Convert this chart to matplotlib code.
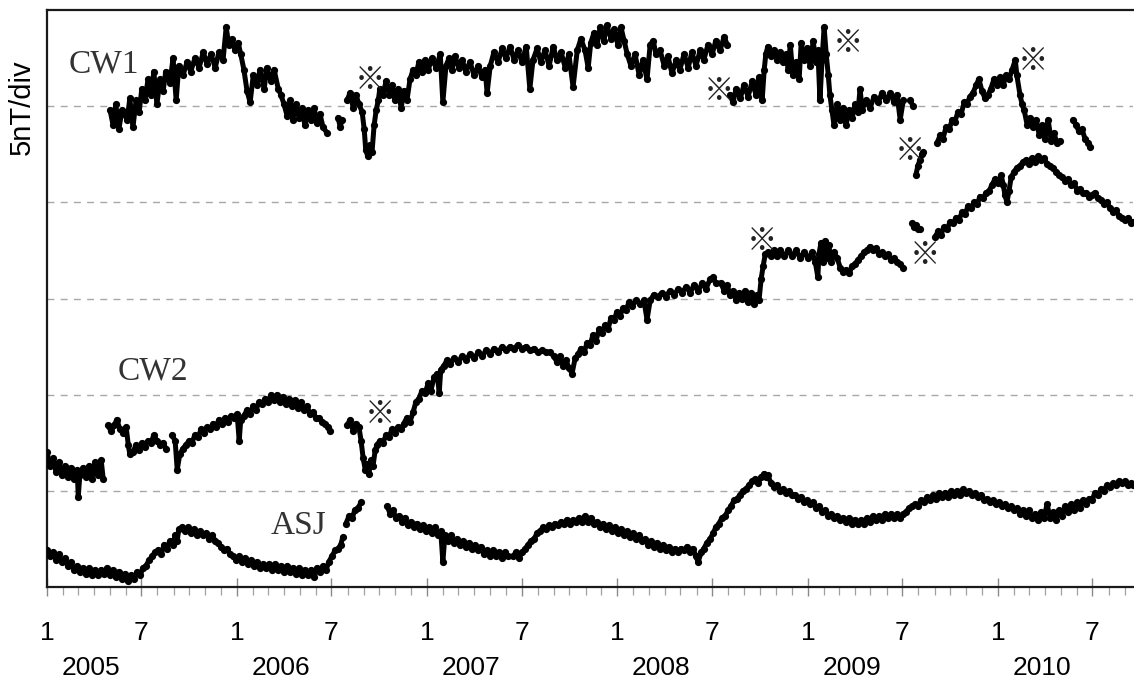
import numpy as np
import matplotlib
matplotlib.use("Agg")
import matplotlib.pyplot as plt
import matplotlib.transforms as mtransforms

nan = float("nan")

# x: days since 2005-01-01, y: field value in nT (5 nT per division); (nan, nan) marks a data gap
cw1 = [
    (121, 24.8), (127, 24.0), (132, 25.1), (138, 23.8), (144, 24.8), (154, 24.3), (159, 25.4), (165, 23.9),
    (171, 25.3), (177, 24.7), (182, 25.9), (188, 25.3), (194, 26.4), (200, 25.6), (205, 26.8), (211, 25.1),
    (217, 26.4), (223, 25.8), (228, 26.8), (236, 26.2), (242, 27.5), (248, 25.3), (253, 27.1), (261, 26.6),
    (269, 27.3), (276, 26.8), (284, 27.5), (292, 27.0), (300, 27.8), (307, 27.2), (315, 27.7), (323, 27.0),
    (330, 27.8), (338, 27.4), (344, 29.1), (349, 28.2), (355, 28.5), (361, 27.9), (367, 28.3), (372, 27.7),
    (378, 26.9), (384, 25.8), (390, 25.2), (396, 26.6), (403, 26.1), (409, 26.9), (417, 25.9), (422, 27.0),
    (430, 26.3), (436, 26.9), (444, 25.9), (449, 25.6), (455, 25.1), (461, 24.5), (467, 25.3), (472, 24.3),
    (478, 25.1), (484, 24.4), (490, 24.9), (495, 24.0), (501, 24.8), (507, 24.3), (513, 24.9), (518, 24.1),
    (524, 24.6), (530, 23.9), (538, 23.6),
    (nan, nan),
    (559, 24.4), (563, 23.9), (566, 24.3),
    (nan, nan),
    (576, 25.3), (582, 25.7), (588, 24.9), (593, 25.6), (599, 25.1), (605, 24.7), (609, 23.8), (612, 22.7),
    (616, 22.4), (620, 23.0), (624, 22.6), (628, 24.0), (632, 24.8), (636, 25.3), (639, 25.9), (645, 25.6),
    (651, 26.3), (657, 25.6), (662, 26.1), (668, 25.3), (674, 25.9), (680, 24.9), (685, 25.8), (691, 25.3),
    (697, 26.4), (703, 26.9), (708, 26.6), (714, 27.3), (720, 26.8), (726, 27.4), (732, 26.9), (739, 27.5),
    (747, 27.0), (755, 27.7), (760, 25.2), (766, 27.1), (772, 27.5), (778, 26.9), (783, 27.6), (791, 27.0),
    (797, 27.4), (804, 26.8), (812, 27.3), (820, 26.6), (828, 27.1), (835, 26.5), (841, 26.9), (845, 25.7),
    (851, 27.1), (858, 27.8), (866, 27.3), (874, 28.0), (881, 27.5), (889, 28.1), (897, 27.4), (904, 27.9),
    (912, 27.3), (920, 28.1), (927, 25.9), (933, 27.4), (941, 28.0), (948, 27.3), (956, 27.9), (964, 27.1),
    (972, 28.1), (979, 27.4), (987, 27.8), (995, 27.0), (1002, 27.7), (1010, 26.0), (1018, 27.9), (1025, 28.5),
    (1033, 27.9), (1039, 27.0), (1044, 28.3), (1050, 28.8), (1056, 28.2), (1062, 29.1), (1069, 28.4), (1075, 29.2),
    (1083, 28.5), (1089, 29.0), (1096, 28.2), (1102, 29.1), (1108, 28.4), (1114, 27.7), (1121, 27.1), (1129, 27.7),
    (1137, 26.6), (1144, 27.4), (1152, 26.4), (1158, 28.2), (1164, 28.4), (1169, 27.7), (1177, 27.9), (1185, 27.1),
    (1192, 27.6), (1200, 26.7), (1208, 27.4), (1215, 26.9), (1223, 27.7), (1231, 27.0), (1238, 27.8), (1246, 27.1),
    (1254, 27.9), (1261, 27.4), (1269, 28.2), (1277, 27.7), (1284, 28.4), (1292, 27.9), (1300, 28.6), (1306, 28.2),
    (nan, nan),
    (1311, 25.6), (1317, 25.2), (1323, 25.9), (1331, 25.4), (1338, 26.1), (1346, 25.5), (1354, 26.3), (1361, 25.6),
    (1367, 26.5), (1373, 25.3), (1377, 26.9), (1380, 27.7), (1384, 28.1), (1390, 27.6), (1396, 27.9), (1402, 27.4),
    (1407, 27.8), (1413, 27.3), (1419, 27.7), (1423, 26.9), (1427, 28.2), (1432, 26.6), (1438, 27.3), (1444, 26.4),
    (1448, 28.3), (1453, 27.4), (1459, 28.0), (1465, 27.1), (1471, 28.4), (1476, 27.3), (1480, 27.9), (1484, 25.3),
    (1488, 27.4), (1492, 29.1), (1496, 27.7), (1500, 26.6), (1503, 25.6), (1507, 24.8), (1511, 24.0), (1517, 25.1),
    (1523, 24.3), (1528, 24.9), (1534, 24.0), (1540, 24.8), (1546, 24.4), (1551, 25.1), (1557, 24.7), (1561, 25.9),
    (1565, 24.8), (1572, 25.3), (1580, 24.9), (1588, 25.5), (1596, 25.2), (1603, 25.7), (1611, 25.3), (1619, 25.7),
    (1626, 25.2), (1632, 25.6), (1638, 24.3), (1644, 25.3),
    (nan, nan),
    (1657, 25.3), (1663, 25.0),
    (nan, nan),
    (1668, 21.4), (1672, 21.9), (1676, 22.2), (1680, 22.5), (1682, 22.6),
    (nan, nan),
    (1709, 23.1), (1715, 23.5), (1720, 23.3), (1726, 23.9), (1732, 23.8), (1738, 24.3), (1743, 24.2), (1749, 24.7),
    (1755, 24.6), (1761, 25.2), (1766, 25.1), (1772, 25.5), (1778, 25.7), (1784, 26.1), (1789, 26.4), (1795, 25.8),
    (1801, 25.4), (1807, 25.6), (1812, 25.9), (1818, 26.4), (1824, 26.1), (1830, 26.5), (1836, 26.1), (1841, 26.6),
    (1847, 26.4), (1853, 26.9), (1859, 27.4), (1862, 26.6), (1868, 25.6), (1872, 25.1), (1876, 24.8), (1882, 24.0),
    (1887, 24.4), (1893, 23.9), (1899, 24.3), (1905, 23.5), (1910, 24.0), (1916, 23.3), (1922, 24.3), (1928, 23.2),
    (1933, 23.6), (1939, 23.1), (1945, 23.2),
    (nan, nan),
    (1970, 24.3), (1976, 24.0), (1981, 23.7), (1987, 23.8), (1993, 23.3), (1999, 23.1), (2003, 22.9),
]

cw2 = [
    (0, 7.0), (6, 6.3), (12, 6.7), (17, 6.0), (23, 6.5), (29, 5.8), (35, 6.3), (40, 5.7), (46, 6.2), (52, 5.6),
    (58, 6.1), (60, 4.7), (63, 5.8), (69, 6.2), (75, 5.7), (81, 6.3), (86, 5.6), (92, 6.5), (98, 5.8), (104, 6.6),
    (108, 5.6),
    (nan, nan),
    (117, 8.4), (123, 8.1), (129, 8.4), (134, 8.7), (140, 8.2), (146, 8.0), (152, 8.3), (156, 7.4), (159, 6.9),
    (165, 7.0), (171, 7.4), (177, 7.1), (182, 7.5), (188, 7.3), (194, 7.6), (200, 7.5), (205, 7.9), (211, 7.6),
    (217, 7.4), (223, 7.5), (228, 7.2),
    (nan, nan),
    (240, 7.9), (246, 7.6), (250, 6.1), (255, 6.9), (261, 7.2), (267, 7.4), (273, 7.6), (278, 7.5), (284, 7.9),
    (290, 7.8), (296, 8.2), (301, 8.0), (307, 8.3), (313, 8.2), (319, 8.5), (324, 8.3), (330, 8.7), (336, 8.5),
    (342, 8.8), (348, 8.6), (353, 8.9), (359, 8.8), (365, 9.0), (369, 7.6), (372, 8.7), (378, 8.9), (384, 9.2),
    (390, 9.0), (396, 9.4), (401, 9.2), (407, 9.6), (413, 9.5), (419, 9.8), (424, 9.6), (430, 10.0), (436, 9.7),
    (442, 10.0), (447, 9.6), (453, 9.9), (459, 9.5), (465, 9.8), (470, 9.4), (476, 9.7), (482, 9.3), (488, 9.6),
    (493, 9.2), (499, 9.4), (505, 9.0), (511, 9.1), (516, 8.8), (522, 8.8), (528, 8.6), (534, 8.5), (540, 8.3),
    (543, 8.1),
    (nan, nan),
    (576, 8.4), (582, 8.7), (588, 8.1), (593, 8.5), (599, 8.3), (603, 7.6), (607, 6.7), (611, 6.1), (614, 6.4),
    (618, 5.9), (622, 6.6), (626, 6.3), (630, 7.1), (634, 7.4), (639, 7.6), (645, 7.5), (651, 7.9), (657, 7.8),
    (662, 8.2), (668, 8.0), (674, 8.3), (680, 8.2), (685, 8.5), (691, 8.8), (697, 8.6), (703, 9.1), (708, 9.6),
    (714, 9.8), (720, 10.2), (726, 10.1), (732, 10.6), (737, 10.2), (743, 10.9), (749, 11.1), (753, 10.1),
    (756, 11.3), (762, 11.5), (768, 11.8), (774, 11.6), (781, 11.9), (789, 11.7), (797, 12.0), (804, 11.8),
    (812, 12.1), (820, 11.9), (828, 12.2), (835, 12.0), (843, 12.3), (851, 12.1), (858, 12.4), (866, 12.2),
    (874, 12.5), (881, 12.3), (889, 12.5), (897, 12.4), (904, 12.6), (912, 12.4), (920, 12.5), (927, 12.3),
    (935, 12.4), (943, 12.2), (950, 12.3), (958, 12.2), (966, 12.2), (973, 12.0), (979, 11.7), (985, 12.0),
    (991, 11.5), (996, 11.8), (1002, 11.4), (1008, 11.1), (1014, 11.9), (1020, 12.1), (1025, 12.4), (1031, 12.2),
    (1037, 12.7), (1043, 12.6), (1048, 13.1), (1054, 12.8), (1060, 13.4), (1066, 13.2), (1071, 13.6), (1077, 13.4),
    (1083, 14.0), (1089, 13.9), (1094, 14.3), (1100, 14.1), (1106, 14.5), (1112, 14.4), (1117, 14.8), (1123, 14.6),
    (1131, 14.9), (1139, 14.7), (1146, 14.9), (1152, 13.9), (1158, 14.9), (1165, 15.2), (1173, 15.1), (1181, 15.3),
    (1188, 15.1), (1196, 15.4), (1204, 15.2), (1212, 15.5), (1219, 15.3), (1227, 15.6), (1235, 15.3), (1242, 15.7),
    (1250, 15.4), (1258, 15.8), (1265, 15.5), (1273, 16.0), (1279, 16.1), (1284, 15.8), (1294, 15.8), (1300, 15.4),
    (1306, 15.7), (1311, 15.2), (1317, 15.4), (1323, 14.9), (1329, 15.3), (1334, 15.0), (1340, 15.4), (1346, 14.8),
    (1352, 15.3), (1357, 14.7), (1363, 15.2), (1367, 14.9), (1371, 16.0), (1375, 16.7), (1379, 17.3), (1384, 17.4),
    (1390, 17.2), (1396, 17.5), (1402, 17.2), (1407, 17.5), (1415, 17.2), (1423, 17.5), (1430, 17.2), (1438, 17.5),
    (1446, 17.1), (1453, 17.4), (1461, 17.1), (1469, 17.4), (1475, 16.9), (1480, 16.1), (1482, 17.3), (1486, 17.9),
    (1490, 16.9), (1494, 18.0), (1498, 17.1), (1501, 17.8), (1505, 16.9), (1511, 17.4), (1517, 17.1), (1523, 16.6),
    (1528, 16.4), (1534, 16.5), (1540, 16.3), (1546, 16.7), (1551, 16.8), (1557, 17.0), (1563, 17.2), (1569, 17.4),
    (1574, 17.5), (1580, 17.7), (1586, 17.5), (1592, 17.6), (1597, 17.3), (1603, 17.4), (1609, 17.2), (1615, 17.3),
    (1620, 17.0), (1626, 17.1), (1632, 16.9), (1638, 16.8), (1644, 16.6),
    (nan, nan),
    (1661, 18.9), (1665, 18.7), (1668, 18.8), (1672, 18.6), (1676, 18.6),
    (nan, nan),
    (1705, 18.2), (1711, 18.5), (1716, 18.3), (1722, 18.7), (1728, 18.6), (1734, 19.0), (1740, 18.9), (1745, 19.2),
    (1751, 19.1), (1757, 19.5), (1763, 19.4), (1768, 19.8), (1774, 19.7), (1780, 20.0), (1786, 19.9), (1791, 20.3),
    (1797, 20.2), (1803, 20.5), (1809, 20.6), (1814, 20.9), (1820, 21.2), (1826, 21.0), (1832, 21.4), (1836, 20.9),
    (1839, 20.4), (1843, 20.0), (1847, 20.6), (1851, 21.3), (1857, 21.6), (1862, 21.8), (1868, 21.9), (1874, 22.1),
    (1880, 22.2), (1885, 22.0), (1891, 22.3), (1897, 22.1), (1903, 22.4), (1908, 22.2), (1914, 22.3), (1920, 22.0),
    (1926, 21.9), (1932, 21.8), (1937, 21.6), (1943, 21.4), (1949, 21.3), (1955, 21.1), (1960, 21.2), (1966, 20.9),
    (1972, 21.0), (1978, 20.6), (1983, 20.7), (1989, 20.5), (1995, 20.5), (2001, 20.3), (2006, 20.4), (2012, 20.5),
    (2018, 20.2), (2024, 20.1), (2029, 19.9), (2035, 20.0), (2041, 19.7), (2047, 19.5), (2052, 19.6), (2058, 19.3),
    (2064, 19.2), (2070, 19.1), (2076, 19.2), (2081, 18.9), (2085, 19.0),
]

asj = [
    (0, 1.9), (6, 1.6), (12, 1.8), (17, 1.4), (23, 1.7), (29, 1.3), (35, 1.5), (40, 1.1), (46, 1.3), (52, 0.9),
    (58, 1.1), (63, 0.8), (69, 1.0), (75, 0.7), (81, 1.0), (86, 0.6), (92, 0.9), (98, 0.6), (104, 0.9), (109, 0.7),
    (115, 1.0), (121, 0.6), (127, 0.9), (132, 0.5), (138, 0.8), (144, 0.4), (150, 0.7), (156, 0.3), (161, 0.6),
    (167, 0.4), (173, 0.8), (179, 0.6), (184, 1.0), (190, 1.1), (196, 1.4), (202, 1.6), (207, 1.8), (213, 1.9),
    (219, 1.7), (225, 2.2), (230, 2.0), (236, 2.4), (242, 2.2), (246, 2.7), (250, 2.4), (253, 3.0), (259, 3.1),
    (265, 2.9), (271, 3.1), (276, 2.8), (282, 3.0), (288, 2.7), (294, 2.9), (300, 2.7), (305, 2.8), (311, 2.5),
    (317, 2.7), (323, 2.4), (328, 2.3), (334, 2.1), (340, 1.9), (346, 2.0), (351, 1.7), (357, 1.6), (363, 1.4),
    (369, 1.6), (374, 1.3), (380, 1.5), (386, 1.2), (392, 1.4), (397, 1.1), (403, 1.3), (409, 1.0), (415, 1.2),
    (420, 1.0), (426, 1.2), (432, 0.9), (438, 1.2), (444, 0.9), (449, 1.1), (455, 0.8), (461, 1.1), (467, 0.8),
    (472, 1.0), (478, 0.7), (484, 1.0), (490, 0.6), (495, 0.9), (501, 0.6), (507, 0.9), (513, 0.5), (518, 1.0),
    (524, 0.8), (530, 1.1), (536, 0.9), (541, 1.3), (547, 1.6), (553, 1.9), (559, 2.0), (564, 2.2), (568, 2.6),
    (nan, nan),
    (574, 3.3), (580, 3.7), (586, 3.6), (591, 4.0), (597, 4.1), (603, 4.4),
    (nan, nan),
    (653, 4.2), (659, 3.8), (664, 4.0), (670, 3.6), (676, 3.7), (682, 3.4), (687, 3.6), (693, 3.2), (699, 3.4),
    (705, 3.1), (710, 3.3), (716, 3.0), (722, 3.2), (728, 2.9), (733, 3.1), (739, 2.8), (745, 3.1), (751, 2.7),
    (756, 2.9), (760, 1.3), (764, 2.7), (770, 2.4), (776, 2.7), (781, 2.3), (787, 2.5), (793, 2.2), (799, 2.4),
    (804, 2.1), (810, 2.3), (816, 2.0), (822, 2.2), (828, 1.9), (833, 2.1), (839, 1.7), (845, 1.9), (851, 1.6),
    (856, 1.9), (862, 1.6), (868, 1.8), (874, 1.5), (879, 1.8), (885, 1.6),
    (nan, nan),
    (895, 1.6), (900, 1.8), (906, 1.5), (912, 1.8), (918, 2.0), (924, 2.2), (929, 2.4), (935, 2.5), (941, 2.8),
    (947, 2.9), (952, 3.1), (958, 3.0), (964, 3.2), (970, 3.1), (975, 3.3), (981, 3.2), (987, 3.4), (993, 3.3),
    (998, 3.5), (1004, 3.3), (1010, 3.5), (1016, 3.4), (1021, 3.6), (1027, 3.4), (1033, 3.7), (1039, 3.4),
    (1044, 3.6), (1050, 3.3), (1056, 3.4), (1062, 3.1), (1068, 3.3), (1073, 3.0), (1079, 3.2), (1085, 2.9),
    (1091, 3.1), (1096, 2.8), (1102, 3.0), (1108, 2.7), (1114, 2.9), (1119, 2.6), (1125, 2.8), (1131, 2.5),
    (1137, 2.7), (1142, 2.4), (1148, 2.5), (1154, 2.2), (1160, 2.4), (1165, 2.1), (1171, 2.3), (1177, 2.0),
    (1183, 2.2), (1188, 1.9), (1194, 2.1), (1200, 1.8), (1206, 2.0), (1212, 1.8), (1217, 2.0), (1223, 1.9),
    (1229, 2.1), (1235, 1.8), (1240, 2.0), (1246, 1.6), (1250, 1.3), (1256, 1.8), (1261, 2.0), (1267, 2.3),
    (1273, 2.5), (1279, 2.8), (1284, 3.1), (1290, 3.3), (1296, 3.6), (1302, 3.7), (1308, 4.0), (1313, 4.2),
    (1319, 4.5), (1325, 4.6), (1331, 4.8), (1336, 5.0), (1342, 5.1), (1348, 5.3), (1354, 5.5), (1359, 5.6),
    (1365, 5.4), (1371, 5.7), (1377, 5.9), (1380, 5.7), (1384, 5.8), (1390, 5.4), (1396, 5.2), (1402, 5.3),
    (1407, 5.0), (1413, 5.1), (1419, 4.9), (1425, 5.0), (1430, 4.8), (1436, 4.8), (1442, 4.6), (1448, 4.7),
    (1453, 4.4), (1459, 4.5), (1465, 4.3), (1471, 4.4), (1476, 4.1), (1482, 4.2), (1488, 3.9), (1494, 4.0),
    (1500, 3.7), (1505, 3.8), (1511, 3.6), (1517, 3.7), (1523, 3.5), (1528, 3.6), (1534, 3.4), (1540, 3.6),
    (1546, 3.3), (1551, 3.5), (1557, 3.3), (1563, 3.5), (1569, 3.3), (1574, 3.6), (1580, 3.4), (1586, 3.7),
    (1592, 3.5), (1597, 3.7), (1603, 3.5), (1609, 3.8), (1615, 3.6), (1620, 3.8), (1626, 3.6), (1632, 3.8),
    (1638, 3.6), (1644, 3.8), (1649, 3.9), (1655, 4.1), (1661, 4.2), (1667, 4.3), (1672, 4.2), (1678, 4.5),
    (1684, 4.4), (1690, 4.7), (1695, 4.5), (1701, 4.8), (1707, 4.6), (1713, 4.9), (1718, 4.7), (1724, 4.9),
    (1730, 4.7), (1736, 5.0), (1741, 4.8), (1747, 5.0), (1753, 4.8), (1759, 5.1), (1764, 4.9), (1770, 5.0),
    (1776, 4.8), (1782, 4.9), (1788, 4.7), (1793, 4.8), (1799, 4.5), (1805, 4.6), (1811, 4.4), (1816, 4.5),
    (1822, 4.3), (1828, 4.4), (1834, 4.2), (1839, 4.3), (1845, 4.1), (1851, 4.2), (1857, 4.0), (1862, 4.1),
    (1868, 3.8), (1874, 4.0), (1880, 3.7), (1885, 4.0), (1891, 3.6), (1897, 3.8), (1903, 3.5), (1908, 3.9),
    (1914, 3.6), (1920, 4.3), (1926, 3.6), (1932, 3.9), (1937, 3.5), (1943, 4.0), (1949, 3.7), (1955, 4.2),
    (1960, 3.9), (1966, 4.3), (1972, 4.0), (1978, 4.4), (1983, 4.1), (1989, 4.5), (1995, 4.3), (2001, 4.6),
    (2006, 4.5), (2012, 4.9), (2018, 4.8), (2024, 5.1), (2029, 5.0), (2035, 5.3), (2041, 5.2), (2047, 5.4),
    (2052, 5.3), (2058, 5.5), (2064, 5.4), (2070, 5.5), (2076, 5.3), (2081, 5.4), (2085, 5.3),
]

station_labels = ["CW1", "CW2", "ASJ"]
label_pos = [(110, 27.2), (204, 11.2), (482, 3.2)]          # (day, nT)
mark_pos = [(620, 26.4), (1290, 25.8), (1538, 28.3), (1657, 22.7), (1893, 27.4),
            (1373, 18.0), (1686, 17.3), (639, 9.0)]           # ※ markers (day, nT)
years = [2005, 2006, 2007, 2008, 2009, 2010]
month_labels = ["1", "7"]
grid_levels = [5, 10, 15, 20, 25]

# ---------------------------------------------------------------------------
W, H = 1134, 679
fig = plt.figure(figsize=(W / 100, H / 100), dpi=100)
ax = fig.add_axes([47 / W, 92 / H, (1133 - 47) / W, 577 / H])

start = np.datetime64("2005-01-01")
for series in (cw1, cw2, asj):
    arr = np.array(series, dtype=float)
    ax.plot(arr[:, 0], arr[:, 1], color="black", lw=3.6, marker="o", ms=5.2,
            mew=0, solid_joinstyle="round", solid_capstyle="round", zorder=3)

for g in grid_levels:
    ax.axhline(g, color="#a8a8a8", lw=1.0, dashes=(5, 4.5), zorder=1)

ax.set_xlim(0, 2085)
ax.set_ylim(0, 30)

# ticks: major at Jan 1 / Jul 1, minor monthly
major_dates = []
major_lbls = []
for y in years:
    for m, lab in zip((1, 7), month_labels):
        major_dates.append(np.datetime64(f"{y}-{m:02d}-01"))
        major_lbls.append(lab)
major_days = [(d - start).astype(int) for d in major_dates]
months = np.arange(np.datetime64("2005-01"), np.datetime64("2010-10"))
minor_days = [(m.astype("datetime64[D]") - start).astype(int) for m in months]

ax.set_xticks(major_days)
ax.set_xticklabels(major_lbls, fontsize=19, family="Liberation Sans")
ax.set_xticks(minor_days, minor=True)
ax.tick_params(axis="x", which="major", direction="inout", length=13, width=1.0,
               color="#8a8a8a", pad=18)
ax.tick_params(axis="x", which="minor", direction="out", length=6, width=0.9,
               color="#a0a0a0")
ax.set_yticks([])

for side in ("left", "top", "bottom"):
    ax.spines[side].set_linewidth(1.6)
    ax.spines[side].set_color("#1a1a1a")
ax.spines["right"].set_visible(False)

trans = mtransforms.blended_transform_factory(ax.transData, ax.transAxes)
for y in years:
    d = (np.datetime64(f"{y}-01-01") - start).astype(int) + 84
    ax.text(d, -0.14, str(y), transform=trans, ha="center", va="center",
            fontsize=19, family="Liberation Sans")

for lab, (d, v) in zip(station_labels, label_pos):
    ax.text(d, v, lab, ha="center", va="center", fontsize=24,
            family="Liberation Serif", color="#333333", zorder=4)

for d, v in mark_pos:
    ax.text(d, v, "※", ha="center", va="center", fontsize=22,
            family=["Noto Sans CJK JP", "DejaVu Sans"], color="#222222", zorder=4)

fig.text(22 / W, 1 - 107 / H, "5nT/div", rotation=90, ha="center", va="center",
         fontsize=21, family="Liberation Sans")

fig.savefig("out.png", dpi=100)
